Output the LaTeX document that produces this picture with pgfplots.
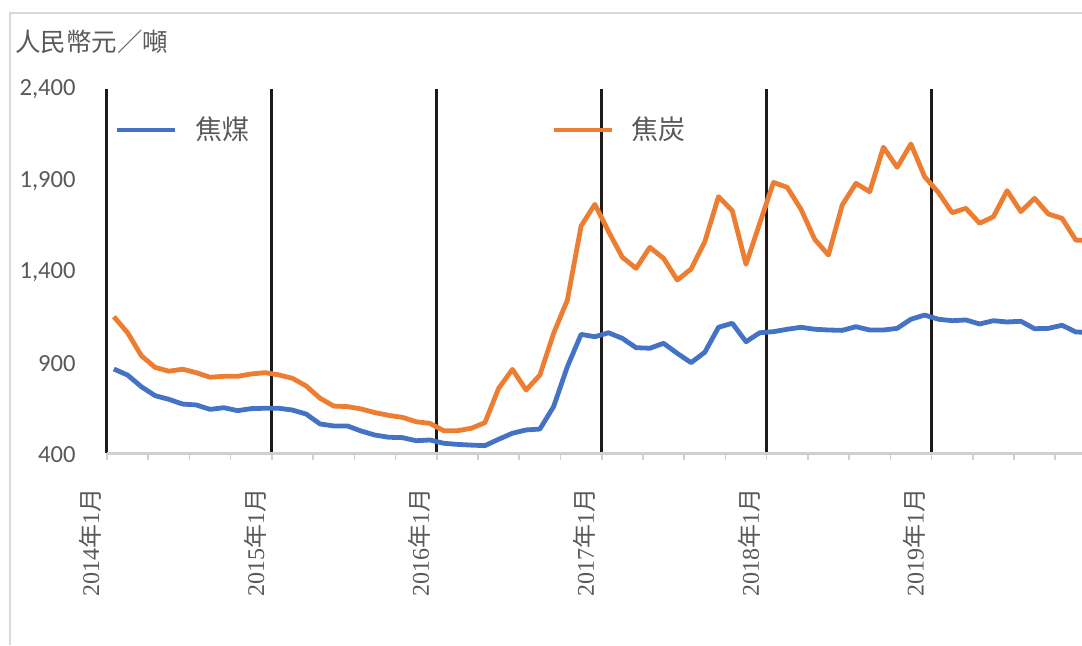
\documentclass[border=0pt]{standalone}
\usepackage{fontspec}
\usepackage{pgfplots}
\pgfplotsset{compat=1.18}
\setmainfont{Liberation Serif}
\newfontfamily\timesf{Liberation Serif}
\newfontfamily\cjk{Noto Sans CJK TC}
\newfontfamily\calib{Carlito}
\definecolor{labelgray}{HTML}{595959}
\definecolor{axisgray}{HTML}{D0D0D0}
\definecolor{framegray}{HTML}{D9D9D9}
\definecolor{yearline}{HTML}{1E1A17}
\definecolor{cokecoal}{HTML}{4472C4}
\definecolor{coke}{HTML}{ED7D31}
\newcommand\ym[1]{{\timesf #1}{\cjk 年}{\timesf 1}{\cjk 月}}

\begin{document}
\begin{tikzpicture}
\useasboundingbox (0,0) rectangle (541pt,322.5pt);
\draw[framegray, line width=1pt] (4.8pt,0pt) -- (4.8pt,316pt) -- (541pt,316pt);
\node[anchor=west, inner sep=0pt, text=labelgray, font=\cjk\fontsize{12.75pt}{15pt}\selectfont] at (7.5pt,301.5pt) {人民幣元／噸};

\begin{axis}[
    at={(53.5pt,95.85pt)}, anchor=south west,
    scale only axis, width=487.5pt, height=182.4pt,
    xmin=-0.5, xmax=70.45, ymin=400, ymax=2400,
    axis x line*=bottom, axis y line*=left,
    x axis line style={-, color=axisgray, line width=1.4pt},
    y axis line style={draw=none},
    xtick={-0.5,11.5,23.5,35.5,47.5,59.5},
    xticklabels={\ym{2014},\ym{2015},\ym{2016},\ym{2017},\ym{2018},\ym{2019}},
    minor xtick={2.5,5.5,8.5,14.5,17.5,20.5,26.5,29.5,32.5,38.5,41.5,44.5,50.5,53.5,56.5,62.5,65.5,68.5},
    tick align=outside,
    major tick length=3.5pt, minor tick length=3.5pt,
    xtick style={color=axisgray, line width=0.8pt},
    xmajorgrids=true,
    major grid style={color=yearline, line width=1.5pt},
    ytick={400,900,1400,1900,2400},
    ytick style={draw=none},
    /pgf/number format/.cd, 1000 sep={,}, assume math mode=true, /pgfplots/.cd,
    yticklabel style={anchor=east, inner sep=0pt, xshift=-12pt, yshift=-0.5pt, text=labelgray, font=\calib\fontsize{12.3pt}{14pt}\selectfont},
    xticklabel style={inner sep=0pt, xshift=-8.5pt, yshift=-14pt, rotate=90, anchor=east, text=labelgray, font=\timesf\fontsize{12pt}{14pt}\selectfont},
    legend columns=2,
    legend image code/.code={\draw[#1] (0pt,0pt) -- (29pt,0pt);},
    legend style={at={(rel axis cs:0,1)}, anchor=west, xshift=3.5pt, yshift=-20.75pt,
        draw=none, fill=none, inner sep=0pt, text=labelgray,
        font=\cjk\fontsize{13.5pt}{16pt}\selectfont, nodes={inner sep=0pt},
        /tikz/every odd column/.append style={column sep=9pt},
        /tikz/every even column/.append style={column sep=151pt}},
]
\addplot[cokecoal, line width=2.4pt, line join=round] coordinates {
(0,862) (1,829) (2,765) (3,716) (4,696) (5,670) (6,665) (7,641) (8,650) (9,634) (10,645) (11,647)
(12,647) (13,637) (14,615) (15,561) (16,550) (17,550) (18,522) (19,500) (20,488) (21,486) (22,469) (23,473)
(24,455) (25,449) (26,445) (27,442) (28,477) (29,510) (30,528) (31,533) (32,656) (33,875) (34,1052) (35,1039)
(36,1061) (37,1030) (38,979) (39,976) (40,1003) (41,948) (42,897) (43,954) (44,1091) (45,1113) (46,1012) (47,1061)
(48,1067) (49,1080) (50,1091) (51,1080) (52,1076) (53,1074) (54,1094) (55,1076) (56,1076) (57,1085) (58,1135) (59,1158)
(60,1135) (61,1127) (62,1131) (63,1109) (64,1127) (65,1120) (66,1124) (67,1083) (68,1085) (69,1102) (70,1065) (71,1063)
};
\addlegendentry{焦煤}
\addplot[coke, line width=2.4pt, line join=round] coordinates {
(0,1149) (1,1061) (2,935) (3,871) (4,850) (5,861) (6,842) (7,817) (8,822) (9,822) (10,835) (11,842)
(12,830) (13,811) (14,769) (15,702) (16,659) (17,656) (18,643) (19,623) (20,608) (21,597) (22,573) (23,564)
(24,524) (25,524) (26,537) (27,568) (28,756) (29,860) (30,747) (31,829) (32,1058) (33,1240) (34,1646) (35,1765)
(36,1615) (37,1475) (38,1414) (39,1529) (40,1469) (41,1350) (42,1410) (43,1560) (44,1807) (45,1730) (46,1436) (47,1661)
(48,1885) (49,1858) (50,1738) (51,1573) (52,1487) (53,1761) (54,1880) (55,1834) (56,2078) (57,1968) (58,2096) (59,1916)
(60,1830) (61,1719) (62,1743) (63,1661) (64,1697) (65,1840) (66,1725) (67,1798) (68,1712) (69,1688) (70,1569) (71,1566)
};
\addlegendentry{焦炭}
\end{axis}
\end{tikzpicture}
\end{document}
